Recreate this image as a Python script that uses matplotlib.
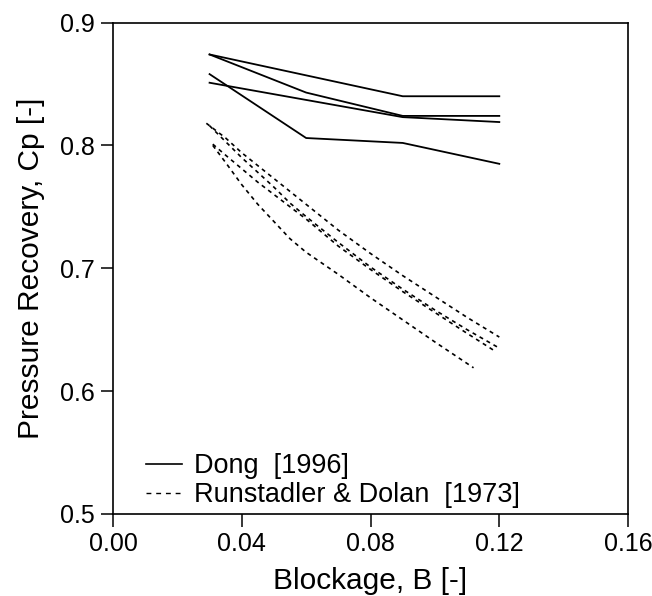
import matplotlib
matplotlib.use("Agg")
import matplotlib.pyplot as plt

plt.rcParams['font.family'] = ['Liberation Sans', 'DejaVu Sans']

# Dong [1996] - four solid curves at the same blockage values
dong_x = [0.03, 0.06, 0.09, 0.12]
dong_1 = [0.874, 0.857, 0.840, 0.840]
dong_2 = [0.874, 0.843, 0.824, 0.824]
dong_3 = [0.851, 0.837, 0.823, 0.819]
dong_4 = [0.858, 0.806, 0.802, 0.785]

# Runstadler & Dolan [1973] - four dashed curves
rd_1_x = [0.029, 0.035, 0.04, 0.05, 0.06, 0.07, 0.08, 0.09, 0.10, 0.11, 0.12]
rd_1_y = [0.818, 0.806, 0.794, 0.773, 0.752, 0.731, 0.712, 0.694, 0.677, 0.660, 0.644]
rd_2_x = [0.030, 0.035, 0.04, 0.045, 0.05, 0.055, 0.06, 0.07, 0.08, 0.09, 0.10, 0.11, 0.12]
rd_2_y = [0.816, 0.803, 0.790, 0.778, 0.766, 0.753, 0.742, 0.721, 0.701, 0.683, 0.666, 0.650, 0.635]
rd_3_x = [0.031, 0.035, 0.04, 0.045, 0.05, 0.055, 0.06, 0.07, 0.08, 0.09, 0.10, 0.11, 0.119]
rd_3_y = [0.801, 0.792, 0.781, 0.770, 0.760, 0.750, 0.740, 0.718, 0.699, 0.681, 0.664, 0.647, 0.632]
rd_4_x = [0.031, 0.035, 0.04, 0.045, 0.05, 0.055, 0.06, 0.07, 0.08, 0.09, 0.10, 0.112]
rd_4_y = [0.800, 0.786, 0.768, 0.752, 0.738, 0.724, 0.713, 0.695, 0.676, 0.658, 0.640, 0.619]

x_ticks = [0.00, 0.04, 0.08, 0.12, 0.16]
y_ticks = [0.5, 0.6, 0.7, 0.8, 0.9]

fig = plt.figure(figsize=(6.52, 5.96), dpi=100)
ax = fig.add_axes([0.1733, 0.1376, 0.7900, 0.8246])

for ys in [dong_1, dong_2, dong_3, dong_4]:
    ax.plot(dong_x, ys, color='black', lw=1.3)
ax.plot([], [], color='black', lw=1.2, label='Dong  [1996]')

dash = (0, (2.4, 2.4))
for xs, ys in [(rd_1_x, rd_1_y), (rd_2_x, rd_2_y), (rd_3_x, rd_3_y), (rd_4_x, rd_4_y)]:
    ax.plot(xs, ys, color='black', lw=1.2, linestyle=dash)
ax.plot([], [], color='black', lw=1.0, linestyle=(0, (3.5, 3.5)),
        label='Runstadler & Dolan  [1973]')

ax.set_xlim(0, 0.16)
ax.set_ylim(0.5, 0.9)
ax.set_xticks(x_ticks)
ax.set_xticklabels([f"{v:.2f}" for v in x_ticks])
ax.set_yticks(y_ticks)
ax.set_yticklabels([f"{v:.1f}" for v in y_ticks])
ax.tick_params(direction='out', length=9, width=1.1, labelsize=18, pad=4)
for s in ax.spines.values():
    s.set_linewidth(1.2)

ax.set_xlabel('Blockage, B [-]', fontsize=21.5, labelpad=8)
ax.set_ylabel('Pressure Recovery, Cp [-]', fontsize=21.5, labelpad=11)

ax.legend(loc='lower left', bbox_to_anchor=(0.065, 0.012), frameon=False,
          fontsize=19.5, handlelength=1.3, handletextpad=0.45, labelspacing=0.1,
          borderaxespad=0, borderpad=0)

fig.savefig('out.png', dpi=100)
